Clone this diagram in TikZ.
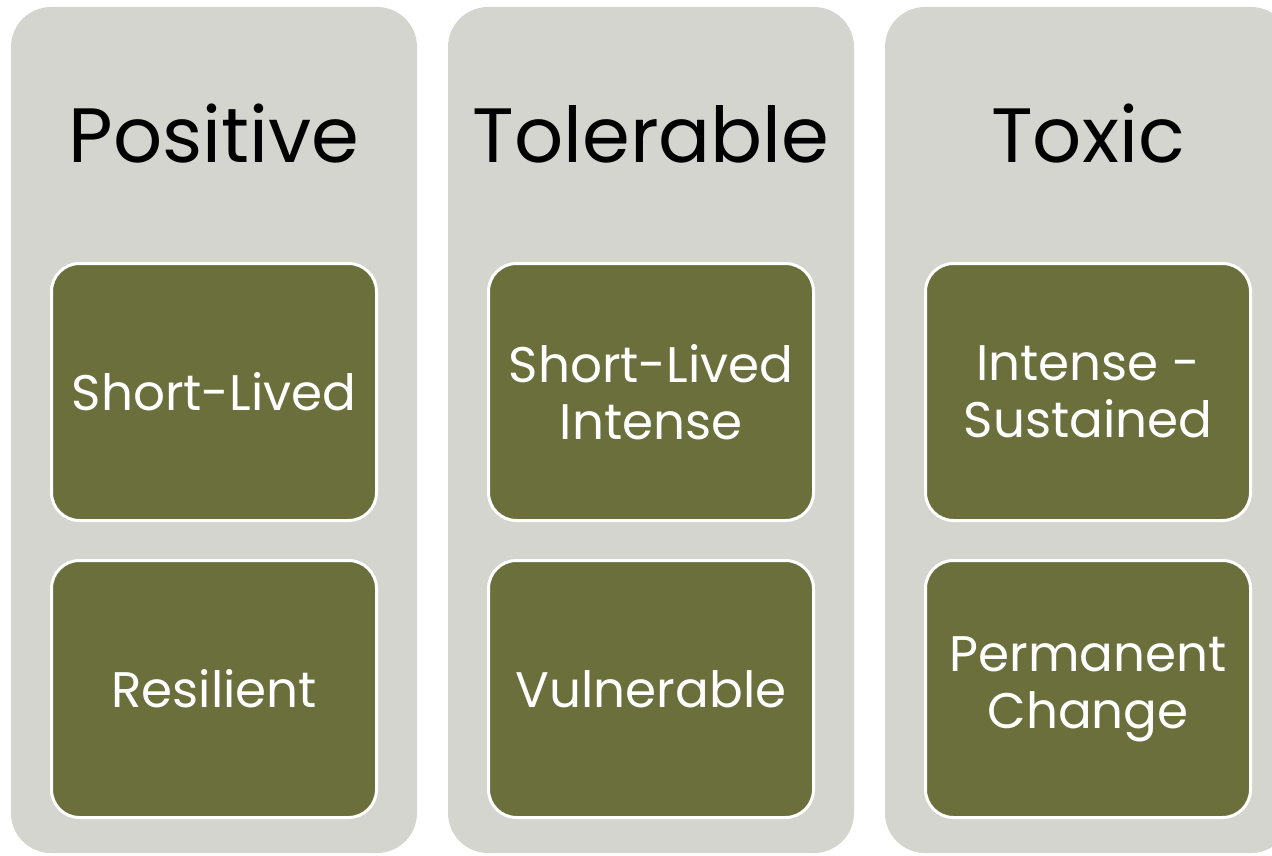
\documentclass[tikz,border=0pt]{standalone}
\usepackage{fontspec}
\setmainfont{Poppins}
\usetikzlibrary{positioning}
\definecolor{panelgrey}{HTML}{D4D5CF}
\definecolor{stageolive}{HTML}{6A6F3B}

\begin{document}
\begin{tikzpicture}[x=1pt,y=-1pt,
    column/.style={fill=panelgrey, rounded corners=40pt, minimum width=406pt,
      minimum height=846pt, inner sep=0pt},
    heading/.style={anchor=base, text=black, font=\fontsize{77}{90}\selectfont},
    stage/.style={fill=stageolive, draw=white, line width=3pt, rounded corners=28pt,
      minimum width=325pt, minimum height=257pt, inner sep=0pt, text=white,
      align=center, font=\fontsize{50}{57}\selectfont}]
   \useasboundingbox (0,0) rectangle (1272,856);
   \clip (0,0) rectangle (1272,856);

   % the three panels
   \node[column] (positive col)  at (214,430)  {};
   \node[column] (tolerable col) at (651,430)  {};
   \node[column] (toxic col)     at (1088,430) {};

   % headings
   \node[heading] (positive)  at (214,163)  {Positive};
   \node[heading] (tolerable) at (651,163)  {Tolerable};
   \node[heading] (toxic)     at (1088,163) {Toxic};

   % stress responses
   \node[stage] (positive short) at (214,392)  {Short-Lived};
   \node[stage, below=37pt of positive short] (positive resilient) {Resilient};

   \node[stage] (tolerable short) at (651,392) {Short-Lived\\Intense};
   \node[stage, below=37pt of tolerable short] (tolerable vulnerable) {Vulnerable};

   \node[stage] (toxic sustained) at (1088,392) {Intense -\\Sustained};
   \node[stage, below=37pt of toxic sustained] (toxic permanent) {Permanent\\Change};
%   \draw[dashed] (positive col.north) -- (positive col.south);
\end{tikzpicture}
\end{document}
